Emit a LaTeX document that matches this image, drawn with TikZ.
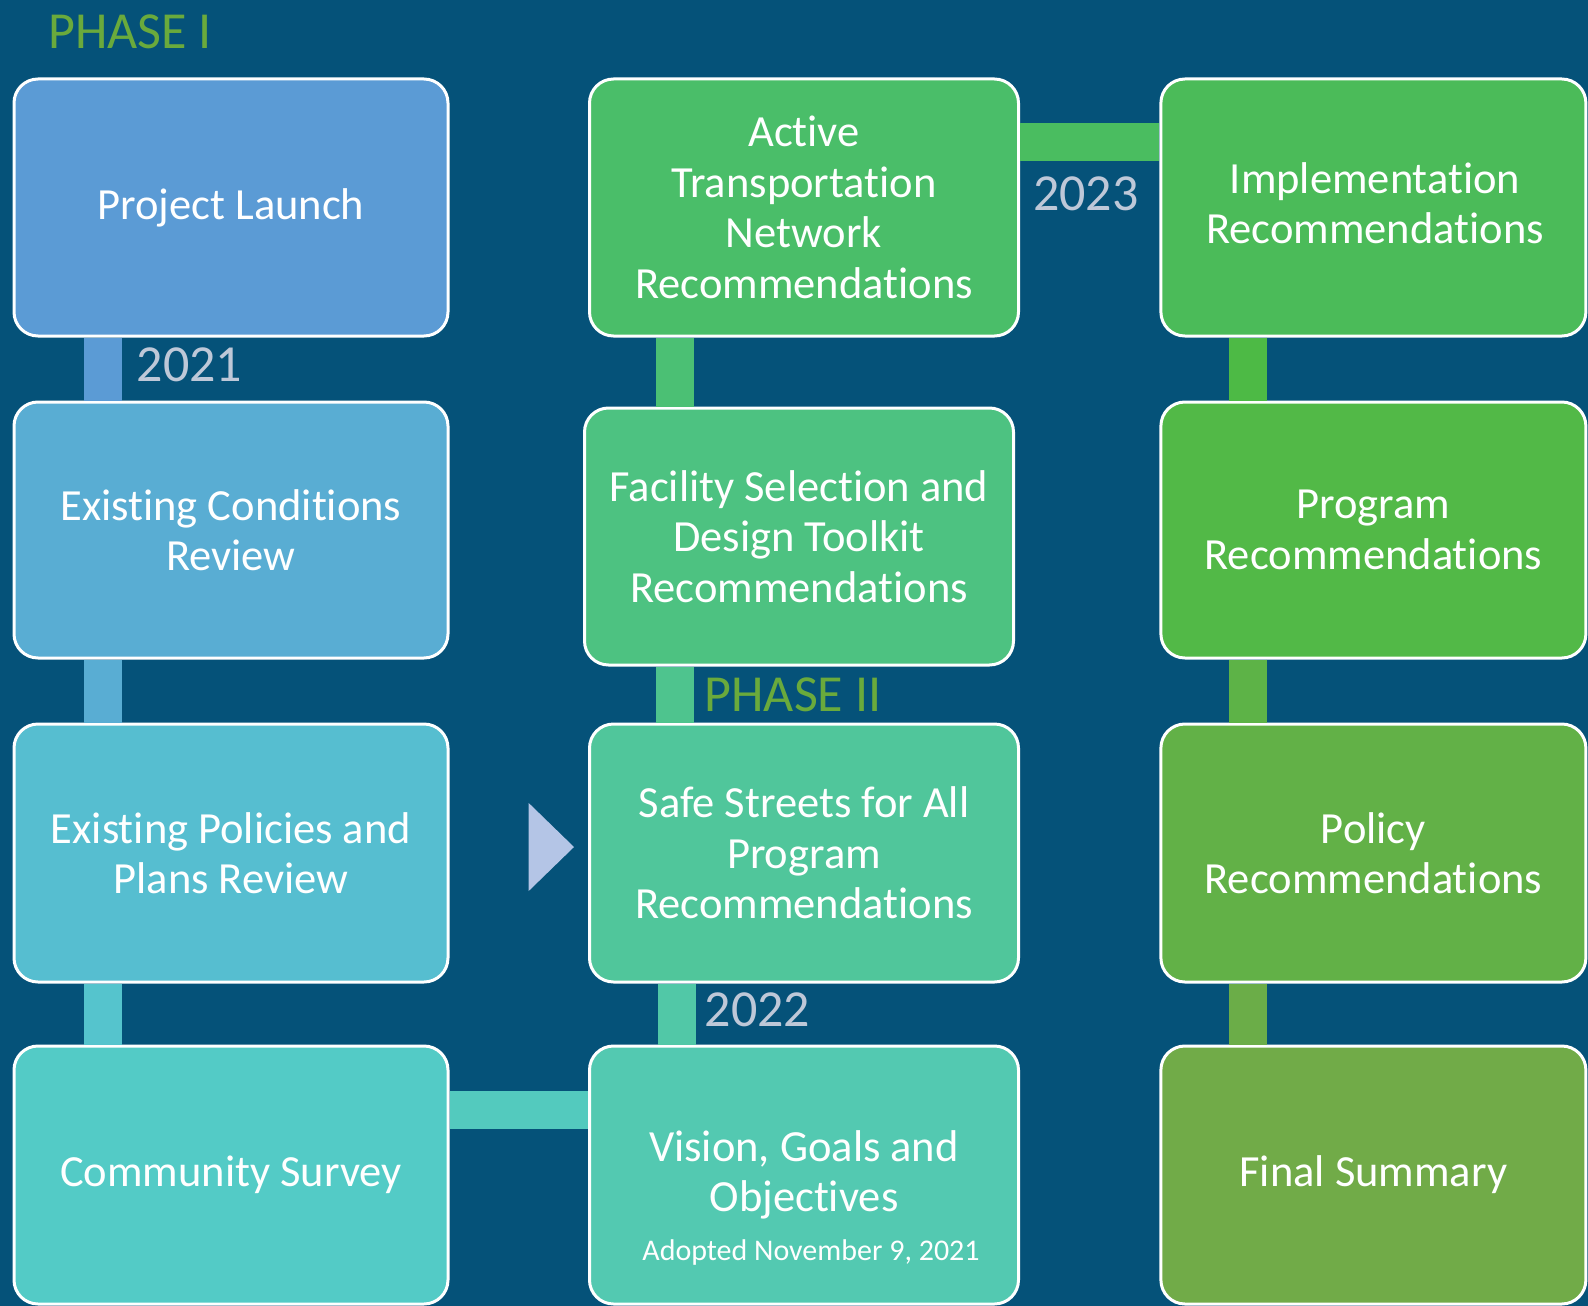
\documentclass[tikz,border=0pt]{standalone}
\usepackage{fontspec}
\setmainfont{Carlito}[RawFeature={-liga;-clig;-dlig;-calt;-rlig}]
\definecolor{bgblue}{RGB}{5,82,121}
\definecolor{cLaunch}{RGB}{91,155,213}
\definecolor{cCond}{RGB}{89,173,211}
\definecolor{cPol}{RGB}{86,190,208}
\definecolor{cSurvey}{RGB}{83,203,198}
\definecolor{cVision}{RGB}{83,201,177}
\definecolor{cSafe}{RGB}{80,198,155}
\definecolor{cFac}{RGB}{77,194,129}
\definecolor{cActive}{RGB}{74,190,105}
\definecolor{cImpl}{RGB}{75,187,89}
\definecolor{cProg}{RGB}{82,185,71}
\definecolor{cPolicy}{RGB}{98,177,71}
\definecolor{cFinal}{RGB}{113,171,72}
\definecolor{bA}{RGB}{91,155,213}
\definecolor{bB}{RGB}{89,173,211}
\definecolor{bC}{RGB}{85,196,205}
\definecolor{bD}{RGB}{83,202,190}
\definecolor{bE}{RGB}{81,200,167}
\definecolor{bF}{RGB}{78,196,142}
\definecolor{bG}{RGB}{75,192,116}
\definecolor{bH}{RGB}{74,189,96}
\definecolor{bI}{RGB}{77,186,69}
\definecolor{bJ}{RGB}{93,179,71}
\definecolor{bK}{RGB}{107,173,72}
\definecolor{yearc}{RGB}{190,200,216}
\definecolor{phasec}{RGB}{106,170,60}
\definecolor{tric}{RGB}{180,197,230}
\newcommand\bigtxt{\fontsize{44.5}{50.5}\selectfont}
\newcommand\smalltxt{\fontsize{30}{36}\selectfont}
\newcommand\yeartxt{\fontsize{52}{60}\selectfont}
\begin{document}
\begin{tikzpicture}[x=1pt,y=-1pt,
  box/.style={rectangle, rounded corners=24pt, draw=white, line width=3pt,
    text=white, align=center, font=\bigtxt, inner sep=0pt},
  col1/.style={box, minimum width=434pt},
  col2/.style={box, minimum width=429pt},
  col3/.style={box, minimum width=425pt},
  bar/.style={line width=38pt},
  year/.style={text=yearc, font=\yeartxt, inner sep=0pt},
  phase/.style={text=phasec, font=\yeartxt, inner sep=0pt},
  plain/.style={text=white, align=center, inner sep=0pt}]
\fill[bgblue] (0,0) rectangle (1588,1306);
\useasboundingbox (0,0) rectangle (1588,1306);
% column 1
\node[col1, fill=cLaunch, minimum height=257pt] (launch) at (231,207.5) {Project Launch};
\node[col1, fill=cCond, minimum height=256pt] (cond) at (231,530) {Existing Conditions\\Review};
\node[col1, fill=cPol, minimum height=258pt] (pol) at (231,853) {Existing Policies and\\Plans Review};
\node[col1, fill=cSurvey, minimum height=258pt] (survey) at (231,1175) {Community Survey};
% column 2
\node[col2, fill=cActive, minimum height=257pt] (active) at (804,207.5) {Active\\Transportation\\Network\\Recommendations};
\node[col2, fill=cFac, minimum height=257pt] (facility) at (799,536.5) {Facility Selection and\\Design Toolkit\\Recommendations};
\node[col2, fill=cSafe, minimum height=258pt] (safe) at (804,853) {Safe Streets for All\\Program\\Recommendations};
\node[col2, fill=cVision, minimum height=258pt] (vision) at (804,1175) {};
\node[plain, font=\bigtxt] (visiontxt) at (804,1175) {Vision, Goals and\\Objectives};
\node[plain, font=\smalltxt] (adopted) at (811,1252) {Adopted November 9, 2021};
% column 3
\node[col3, fill=cImpl, minimum height=257pt] (impl) at (1373.4,207.5) {};
\node[plain, font=\bigtxt] (impltxt) at (1375,203) {Implementation\\Recommendations};
\node[col3, fill=cProg, minimum height=256pt] (prog) at (1373.4,530) {Program\\Recommendations};
\node[col3, fill=cPolicy, minimum height=258pt] (policyrec) at (1373.4,853) {Policy\\Recommendations};
\node[col3, fill=cFinal, minimum height=258pt] (final) at (1373.4,1175) {Final Summary};
% connector x/y positions
\coordinate (xa) at (103,0);
\coordinate (xb) at (675,0);
\coordinate (xc) at (677,0);
\coordinate (xd) at (1248,0);
\coordinate (ytop) at (0,142);
\coordinate (ybot) at (0,1110);
% connectors
\draw[bar, bA] (launch.south -| xa) -- (cond.north -| xa);
\draw[bar, bB] (cond.south -| xa) -- (pol.north -| xa);
\draw[bar, bC] (pol.south -| xa) -- (survey.north -| xa);
\draw[bar, bD] (survey.east |- ybot) -- (vision.west |- ybot);
\draw[bar, bE] (vision.north -| xc) -- (safe.south -| xc);
\draw[bar, bF] (safe.north -| xb) -- (facility.south -| xb);
\draw[bar, bG] (facility.north -| xb) -- (active.south -| xb);
\draw[bar, bH] (active.east |- ytop) -- (impl.west |- ytop);
\draw[bar, bI] (impl.south -| xd) -- (prog.north -| xd);
\draw[bar, bJ] (prog.south -| xd) -- (policyrec.north -| xd);
\draw[bar, bK] (policyrec.south -| xd) -- (final.north -| xd);
% labels
\node[phase] (ph1) at (130,31.4) {PHASE I};
\node[phase] (ph2) at (793,694.8) {PHASE II};
\node[year] (y2021) at (189.4,364.6) {2021};
\node[year] (y2022) at (757.6,1009.8) {2022};
\node[year] (y2023) at (1085.7,193.4) {2023};
% arrow triangle
\fill[tric] (528.7,803) -- (574,847) -- (528.7,891) -- cycle;
\end{tikzpicture}
\end{document}
